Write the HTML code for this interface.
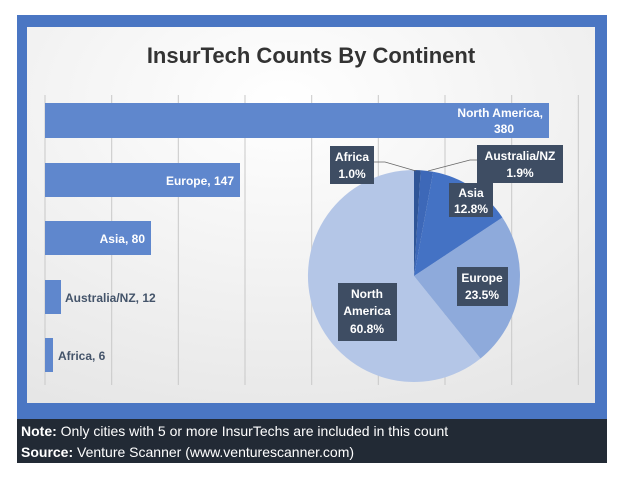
<!DOCTYPE html>
<html><head><meta charset="utf-8"><style>
body{margin:0;background:#fff;width:620px;height:477px;overflow:hidden;font-family:"Liberation Sans",sans-serif}
</style></head><body>
<svg width="620" height="477" viewBox="0 0 620 477" xmlns="http://www.w3.org/2000/svg" font-family="Liberation Sans, sans-serif">
<defs>
<radialGradient id="bg" cx="0.45" cy="0.2" r="0.9">
<stop offset="0" stop-color="#ffffff"/><stop offset="1" stop-color="#e6e6e6"/>
</radialGradient>
</defs>
<rect x="17" y="15" width="590" height="404" fill="#4a76c3"/>
<rect x="27" y="27" width="568" height="376" fill="url(#bg)"/>
<rect x="17" y="419" width="590" height="44" fill="#222a35"/>
<text x="311" y="63" text-anchor="middle" font-size="22" font-weight="bold" fill="#333">InsurTech Counts By Continent</text>
<g stroke="#c8c8c8" stroke-width="1">
<line x1="45" y1="95" x2="45" y2="385"/><line x1="111.7" y1="95" x2="111.7" y2="385"/>
<line x1="178.3" y1="95" x2="178.3" y2="385"/><line x1="245" y1="95" x2="245" y2="385"/>
<line x1="311.7" y1="95" x2="311.7" y2="385"/><line x1="378.3" y1="95" x2="378.3" y2="385"/>
<line x1="445" y1="95" x2="445" y2="385"/><line x1="511.7" y1="95" x2="511.7" y2="385"/>
<line x1="578.3" y1="95" x2="578.3" y2="385"/>
</g>
<g fill="#5f87cd">
<rect x="45" y="103" width="504" height="35"/>
<rect x="45" y="163" width="195" height="34"/>
<rect x="45" y="221" width="106" height="34"/>
<rect x="45" y="280" width="16" height="34"/>
<rect x="45" y="338" width="8" height="34"/>
</g>
<g fill="#fff" font-size="12" font-weight="bold" text-anchor="end">
<text x="543" y="117">North America,</text><text x="514" y="133">380</text>
<text x="234" y="185">Europe, 147</text>
<text x="145" y="243">Asia, 80</text>
</g>
<g fill="#44546a" font-size="12" font-weight="bold">
<text x="65" y="302">Australia/NZ, 12</text>
<text x="58" y="360">Africa, 6</text>
</g>
<g>
<path d="M414,276 L480.5,358.5 A106,106 0 1 1 414,170 Z" fill="#b4c6e7"/>
<path d="M414,276 L502.4,217.5 A106,106 0 0 1 480.5,358.5 Z" fill="#8eaadb"/>
<path d="M414,276 L433.2,171.8 A106,106 0 0 1 502.4,217.5 Z" fill="#4472c4"/>
<path d="M414,276 L420.7,170.2 A106,106 0 0 1 433.2,171.8 Z" fill="#3d68b8"/>
<path d="M414,276 L414,170 A106,106 0 0 1 420.7,170.2 Z" fill="#2f5597"/>
</g>
<g stroke="#666" stroke-width="0.8" fill="none">
<polyline points="374,162 385,162 416,171"/>
<polyline points="477,160 470,160 428,171"/>
</g>
<g fill="#3e4d63">
<rect x="330" y="146" width="44" height="38"/>
<rect x="477" y="145" width="86" height="38"/>
<rect x="449" y="183" width="44" height="34"/>
<rect x="457" y="267" width="51" height="39"/>
<rect x="338" y="283" width="59" height="58"/>
</g>
<g fill="#fff" font-size="12" font-weight="bold" text-anchor="middle">
<text x="352" y="161">Africa</text><text x="352" y="178">1.0%</text>
<text x="520" y="160">Australia/NZ</text><text x="520" y="177">1.9%</text>
<text x="471" y="197">Asia</text><text x="471" y="213">12.8%</text>
<text x="482" y="282">Europe</text><text x="482" y="299">23.5%</text>
<text x="367" y="298">North</text><text x="367" y="315">America</text><text x="367" y="333">60.8%</text>
</g>
<g fill="#fff" font-size="14">
<text x="21" y="436"><tspan font-weight="bold">Note:</tspan> Only cities with 5 or more InsurTechs are included in this count</text>
<text x="21" y="457"><tspan font-weight="bold">Source:</tspan> Venture Scanner (www.venturescanner.com)</text>
</g>
</svg>
</body></html>
